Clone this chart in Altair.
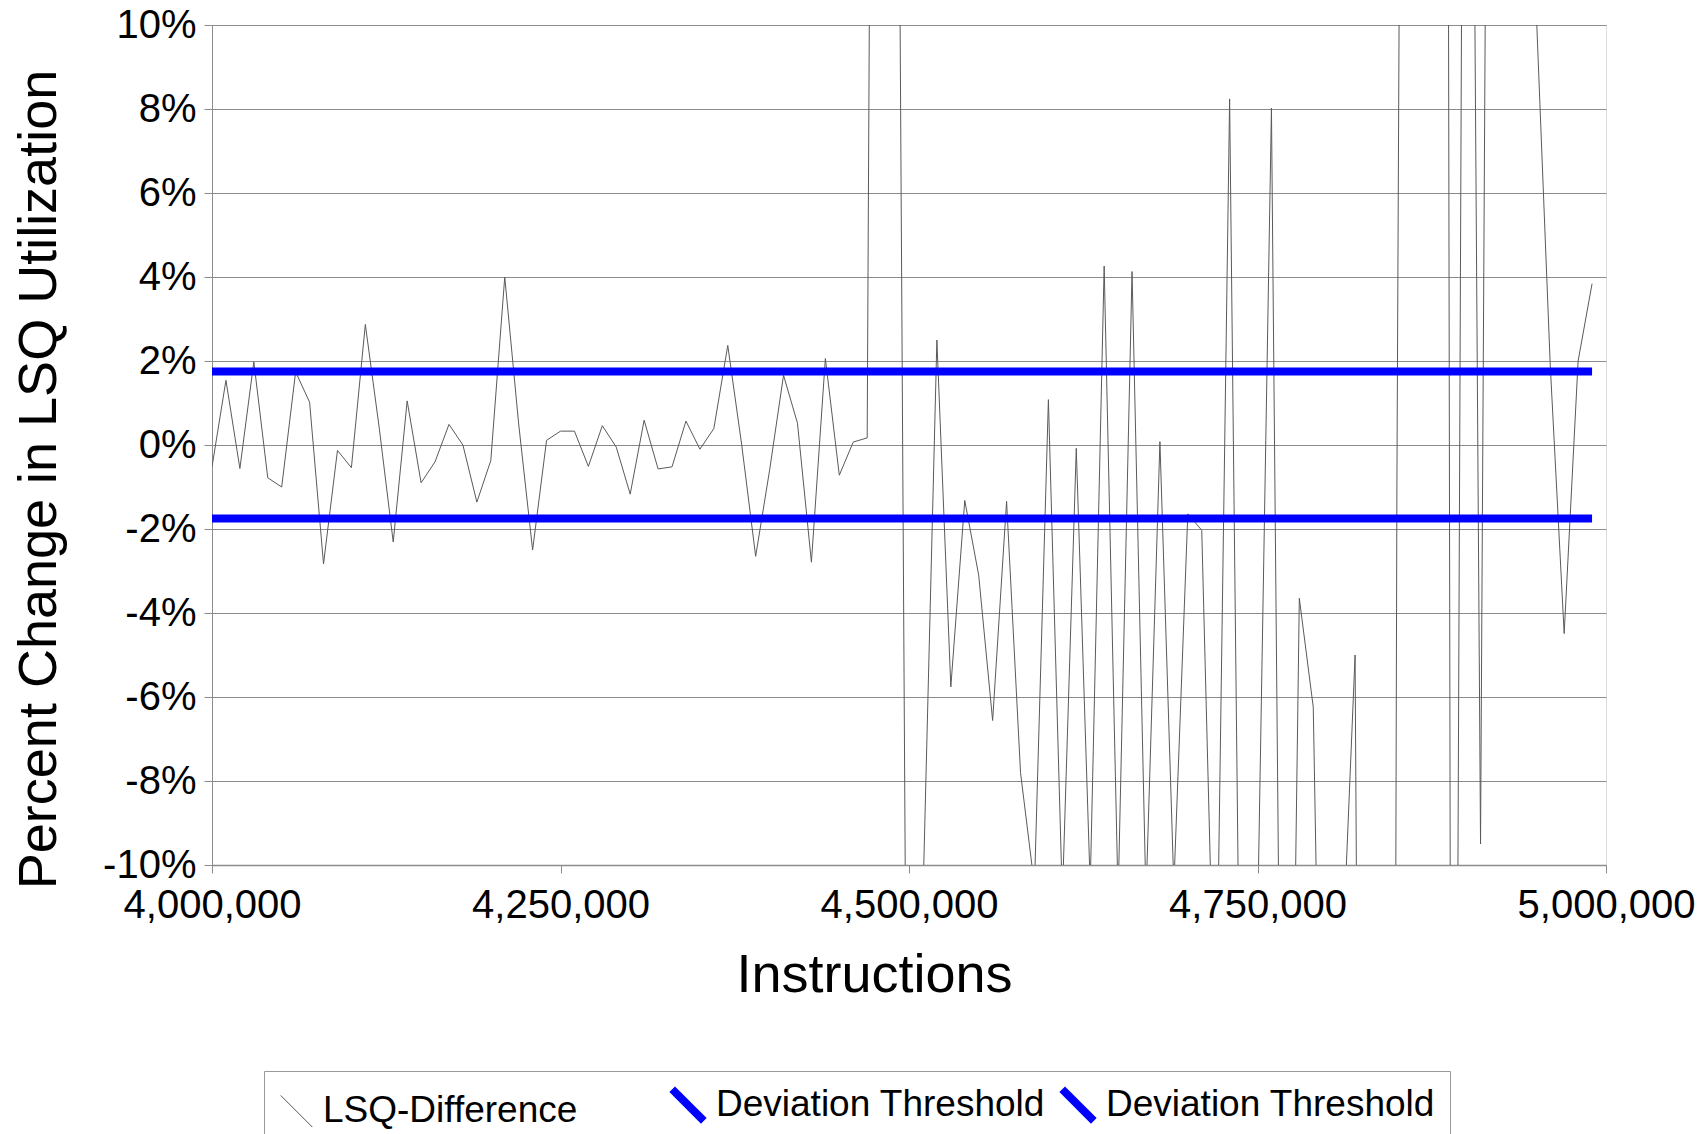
import altair as alt
import pandas as pd

# ---- data ----
instructions = list(range(4000000, 5000000, 10000))  # 100 samples, 10,000 apart

lsq_difference = [
    -0.52, 1.54, -0.56, 1.98, -0.78, -1.0, 1.74, 1.02, -2.83, -0.13,
    -0.54, 2.87, 0.4, -2.31, 1.05, -0.9, -0.4, 0.49, 0.0, -1.36,
    -0.37, 4.0, 0.5, -2.5, 0.11, 0.33, 0.33, -0.51, 0.46, -0.05,
    -1.17, 0.59, -0.57, -0.52, 0.57, -0.1, 0.39, 2.37, 0.0, -2.65,
    -0.6, 1.66, 0.52, -2.79, 2.06, -0.72, 0.07, 0.17, 65.0, 30.0,
    -25.0, -10.8, 2.5, -5.76, -1.32, -3.1, -6.56, -1.34, -7.8, -10.5,
    1.08, -10.8, -0.08, -10.5, 4.26, -10.8, 4.13, -10.8, 0.08, -10.5,
    -1.64, -2.03, -15.0, 8.24, -22.0, -11.5, 8.02, -28.0, -3.65, -6.24,
    -25.0, -13.0, -5.0, -60.0, -120.0, -1.0, 70.0, 40.0, 130.0, -40.0,
    39.0, -9.5, 49.0, 30.0, 25.0, 10.3, 1.9, -4.49, 2.0, 3.84,
]

upper_threshold = 1.75
lower_threshold = -1.75

series_keys = ["LSQ-Difference", "Upper", "Lower"]
series_colors = ["#5a5a5a", "#0000ff", "#0000ff"]
series_widths = [1, 8, 8]

x_ticks = [4000000, 4250000, 4500000, 4750000, 5000000]
y_ticks = [-10, -8, -6, -4, -2, 0, 2, 4, 6, 8, 10]

# ---- long table ----
rows = []
for x, v in zip(instructions, lsq_difference):
    rows.append({"instructions": x, "value": v, "series": "LSQ-Difference"})
for x in instructions:
    rows.append({"instructions": x, "value": upper_threshold, "series": "Upper"})
for x in instructions:
    rows.append({"instructions": x, "value": lower_threshold, "series": "Lower"})
df = pd.DataFrame(rows)

FONT = "Liberation Sans"

label_expr = "datum.value == 'LSQ-Difference' ? 'LSQ-Difference' : 'Deviation Threshold'"

legend = alt.Legend(
    title=None,
    orient="none",
    legendX=52,
    legendY=1046,
    direction="horizontal",
    gridAlign="all",
    columnPadding=0,
    labelExpr=label_expr,
    labelFont=FONT,
    labelFontSize=37,
    labelColor="black",
    labelLimit=700,
    labelOffset=8,
    labelBaseline="middle",
    symbolType="M-1,-1L1,1",
    symbolSize=1000,
    symbolFillColor="transparent",
    strokeColor="#999999",
    fillColor="white",
    padding=14,
)

chart = alt.Chart(df).mark_line(clip=True).encode(
    x=alt.X(
        "instructions:Q",
        scale=alt.Scale(domain=[4000000, 5000000], nice=False, zero=False),
        axis=alt.Axis(
            values=x_ticks,
            format=",d",
            title="Instructions",
            grid=False,
            labelFont=FONT,
            labelFontSize=40,
            labelColor="black",
            labelPadding=12,
            labelFlush=False,
            tickSize=8,
            tickColor="#8c8c8c",
            domainColor="#8c8c8c",
            domainWidth=1.5,
            titleFont=FONT,
            titleFontSize=54,
            titleFontWeight="normal",
            titleColor="black",
            titleX=662,
            titleY=126,
            titleBaseline="alphabetic",
            titleAlign="center",
        ),
    ),
    y=alt.Y(
        "value:Q",
        scale=alt.Scale(domain=[-10, 10], nice=False, zero=False),
        axis=alt.Axis(
            values=y_ticks,
            labelExpr="datum.value + '%'",
            title="Percent Change in LSQ Utilization",
            grid=True,
            gridColor="#8c8c8c",
            gridWidth=1,
            labelFont=FONT,
            labelFontSize=40,
            labelColor="black",
            labelPadding=8,
            tickSize=8,
            tickColor="#8c8c8c",
            domainColor="#8c8c8c",
            titleFont=FONT,
            titleFontSize=54,
            titleFontWeight="normal",
            titleColor="black",
            titleAngle=270,
            titleX=-157,
            titleY=454,
            titleBaseline="alphabetic",
            titleAlign="center",
        ),
    ),
    color=alt.Color(
        "series:N",
        scale=alt.Scale(domain=series_keys, range=series_colors),
        legend=legend,
    ),
    strokeWidth=alt.StrokeWidth(
        "series:N",
        scale=alt.Scale(type="ordinal", domain=series_keys, range=series_widths),
        legend=legend,
    ),
    order=alt.Order("instructions:Q"),
).properties(
    width=1394,
    height=840,
    autosize=alt.AutoSizeParams(type="none"),
    padding={"left": 212, "top": 25, "right": 102, "bottom": 269},
).configure_view(
    stroke="#8c8c8c",
    strokeWidth=1,
).configure(
    background="white",
)

chart.save("out.html", embed_options={"renderer": "svg", "actions": False})
